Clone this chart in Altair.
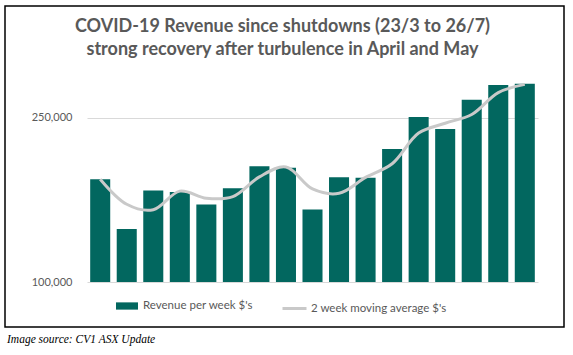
import altair as alt
import pandas as pd

weeks = list(range(1, 18))
revenue = [193900, 148500, 183500, 182300, 170700, 185700, 205800, 204300, 166100,
           195700, 195100, 221400, 250600, 239700, 266500, 279900, 281100]
moving_avg = [193900, 171000, 166000, 183000, 176500, 178000, 196000, 205000, 185000,
              181000, 195500, 208000, 236000, 245000, 253000, 273000, 280500]
bar_name = "Revenue per week $'s"
line_name = "2 week moving average $'s"
title_lines = ["COVID-19 Revenue since shutdowns (23/3 to 26/7)",
               "strong recovery after turbulence in April and May"]
y_ticks = [100000, 250000]
source_note = "Image source: CV1 ASX Update"

df = pd.DataFrame({"week": weeks, "revenue": revenue, "ma": moving_avg,
                   "s1": [bar_name] * len(weeks), "s2": [line_name] * len(weeks)})

TEAL = "#02675f"
GREY_LINE = "#c9c9c9"
TXT = "#595959"
FONT = "Lato"

xenc = alt.X("week:O", axis=None,
             scale=alt.Scale(paddingInner=0.245, paddingOuter=0.12))
yscale = alt.Scale(domain=[100000, 300000], nice=False, zero=False)

base = alt.Chart(df)

bars = base.mark_bar().encode(
    x=xenc,
    y=alt.Y("revenue:Q", scale=yscale, title=None,
            axis=alt.Axis(values=y_ticks, format=",.0f", labelColor=TXT, labelFont=FONT,
                          labelFontSize=11, labelPadding=15, domain=False, ticks=False,
                          grid=True, gridColor="#d9d9d9", gridWidth=1)),
    y2=alt.datum(100000),
    fill=alt.Fill("s1:N", scale=alt.Scale(range=[TEAL]),
                  legend=alt.Legend(title=None, orient="none", legendX=29, legendY=232,
                                    direction="horizontal",
                                    symbolType="M-1,-0.33H1V0.33H-1Z", symbolSize=484,
                                    symbolStrokeWidth=0, labelFont=FONT, labelFontSize=11.5,
                                    labelColor=TXT, labelOffset=5, padding=0)),
)

line = base.mark_line(strokeWidth=3, interpolate="catmull-rom").encode(
    x=xenc,
    y=alt.Y("ma:Q", scale=yscale),
    stroke=alt.Stroke("s2:N", scale=alt.Scale(range=[GREY_LINE]),
                      legend=alt.Legend(title=None, orient="none", legendX=194, legendY=232,
                                        direction="horizontal", symbolType="stroke",
                                        symbolSize=576, symbolStrokeWidth=3,
                                        labelFont=FONT, labelFontSize=11.5,
                                        labelColor=TXT, labelOffset=3, padding=0)),
)

one = pd.DataFrame({"a": [0]})
border = alt.Chart(one).mark_rect(fill=None, stroke="black", strokeWidth=1.5).encode(
    x=alt.value(-82), x2=alt.value(477), y=alt.value(-57), y2=alt.value(264))

note = alt.Chart(one).mark_text(align="left", baseline="alphabetic", font="Liberation Serif",
                                fontStyle="italic", fontSize=11.5, color="black").encode(
    x=alt.value(-80), y=alt.value(280), text=alt.value(source_note))

chart = alt.layer(bars, line, border, note).resolve_scale(fill="independent").properties(
    width=451, height=219,
    autosize=alt.AutoSizeParams(type="none"),
    padding={"left": 87, "top": 63, "right": 35, "bottom": 73},
    title=alt.TitleParams(text=title_lines, anchor="middle", dx=-30, dy=63, offset=9,
                          font=FONT, fontSize=18, fontWeight="bold", color=TXT,
                          lineHeight=23),
).configure(background="white").configure_view(stroke=None)

chart.save("out.html", embed_options={"renderer": "svg", "actions": False})
